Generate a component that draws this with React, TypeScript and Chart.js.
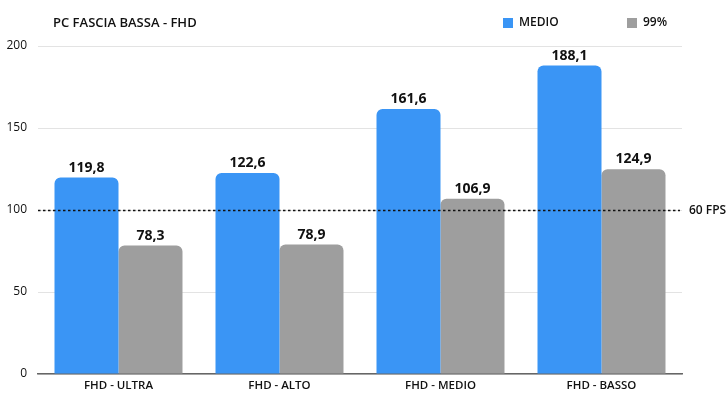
import React, { useEffect, useRef } from "react";
import { Chart, registerables } from "chart.js";

Chart.register(...registerables);

const categories = ["FHD - ULTRA", "FHD - ALTO", "FHD - MEDIO", "FHD - BASSO"];
const medio = [119.8, 122.6, 161.6, 188.1];
const p99 = [78.3, 78.9, 106.9, 124.9];
const seriesNames = ["MEDIO", "99%"];
const refValue = 100;
const refLabel = "60 FPS";
const title = "PC FASCIA BASSA - FHD";

const BLUE = "#3a95f5";
const GRAY = "#9e9e9e";
const FONT = "'Open Sans', Lato, sans-serif";

const overlay = {
  id: "overlay",
  afterDatasetsDraw(chart: any) {
    const ctx = chart.ctx;
    const area = chart.chartArea;
    const y = chart.scales.y;
    ctx.save();
    // value labels
    ctx.fillStyle = "#111";
    ctx.font = `700 14px ${FONT}`;
    ctx.textAlign = "center";
    ctx.textBaseline = "bottom";
    chart.data.datasets.forEach((ds: any, di: number) => {
      const meta = chart.getDatasetMeta(di);
      meta.data.forEach((bar: any, i: number) => {
        const v = ds.data[i];
        ctx.fillText(v.toFixed(1).replace(".", ","), bar.x, bar.y - 3);
      });
    });
    // reference dashed line
    const ry = Math.round(y.getPixelForValue(refValue)) + 0.5;
    ctx.strokeStyle = "#111";
    ctx.lineWidth = 1.5;
    ctx.setLineDash([2.5, 2.5]);
    ctx.beginPath();
    ctx.moveTo(area.left, ry);
    ctx.lineTo(area.right - 2, ry);
    ctx.stroke();
    ctx.setLineDash([]);
    ctx.font = `600 12px ${FONT}`;
    ctx.textAlign = "left";
    ctx.textBaseline = "middle";
    ctx.fillText(refLabel, area.right + 7, ry);
    // title
    ctx.font = `600 13px ${FONT}`;
    ctx.textBaseline = "middle";
    ctx.fillText(title, 53, 23);
    // legend
    const items = [
      { x: 503, color: BLUE, label: seriesNames[0] },
      { x: 627, color: GRAY, label: seriesNames[1] },
    ];
    ctx.font = `600 12px ${FONT}`;
    items.forEach((it) => {
      ctx.fillStyle = it.color;
      ctx.fillRect(it.x, 18, 10, 10);
      ctx.fillStyle = "#111";
      ctx.fillText(it.label, it.x + 16, 23);
    });
    ctx.restore();
  },
};

export default function App() {
  const ref = useRef<HTMLCanvasElement>(null);
  useEffect(() => {
    if (!ref.current) return;
    const chart = new Chart(ref.current, {
      type: "bar",
      data: {
        labels: categories,
        datasets: [
          {
            label: seriesNames[0],
            data: medio,
            backgroundColor: BLUE,
            borderRadius: { topLeft: 6, topRight: 6, bottomLeft: 0, bottomRight: 0 },
            borderSkipped: false,
            categoryPercentage: 0.795,
            barPercentage: 1,
          },
          {
            label: seriesNames[1],
            data: p99,
            backgroundColor: GRAY,
            borderRadius: { topLeft: 6, topRight: 6, bottomLeft: 0, bottomRight: 0 },
            borderSkipped: false,
            categoryPercentage: 0.795,
            barPercentage: 1,
          },
        ],
      },
      options: {
        animation: false,
        responsive: false,
        maintainAspectRatio: false,
        layout: { padding: { top: 46, right: 46, bottom: 0, left: 0 } },
        plugins: {
          legend: { display: false },
          tooltip: { enabled: false },
          title: { display: false },
        },
        scales: {
          x: {
            grid: { display: false, drawTicks: false },
            border: { display: true, color: "#666", width: 1.5 },
            ticks: {
              color: "#111",
              font: { family: FONT, size: 11.5, weight: "600" },
              padding: 5,
              maxRotation: 0,
            },
            afterFit: (s: any) => {
              s.height = 26;
            },
          },
          y: {
            min: 0,
            max: 200,
            grid: { color: "#e3e3e3", drawTicks: false },
            border: { display: false },
            ticks: {
              stepSize: 50,
              color: "#111",
              font: { family: FONT, size: 12, weight: "500" },
              padding: 11,
            },
            afterFit: (s: any) => {
              s.width = 38;
            },
          },
        },
      },
      plugins: [overlay],
    });
    return () => chart.destroy();
  }, []);
  return (
    <div style={{ position: "fixed", left: 0, top: 0, width: 728, height: 400, background: "#fff" }}>
      <canvas ref={ref} width={728} height={400} />
    </div>
  );
}
